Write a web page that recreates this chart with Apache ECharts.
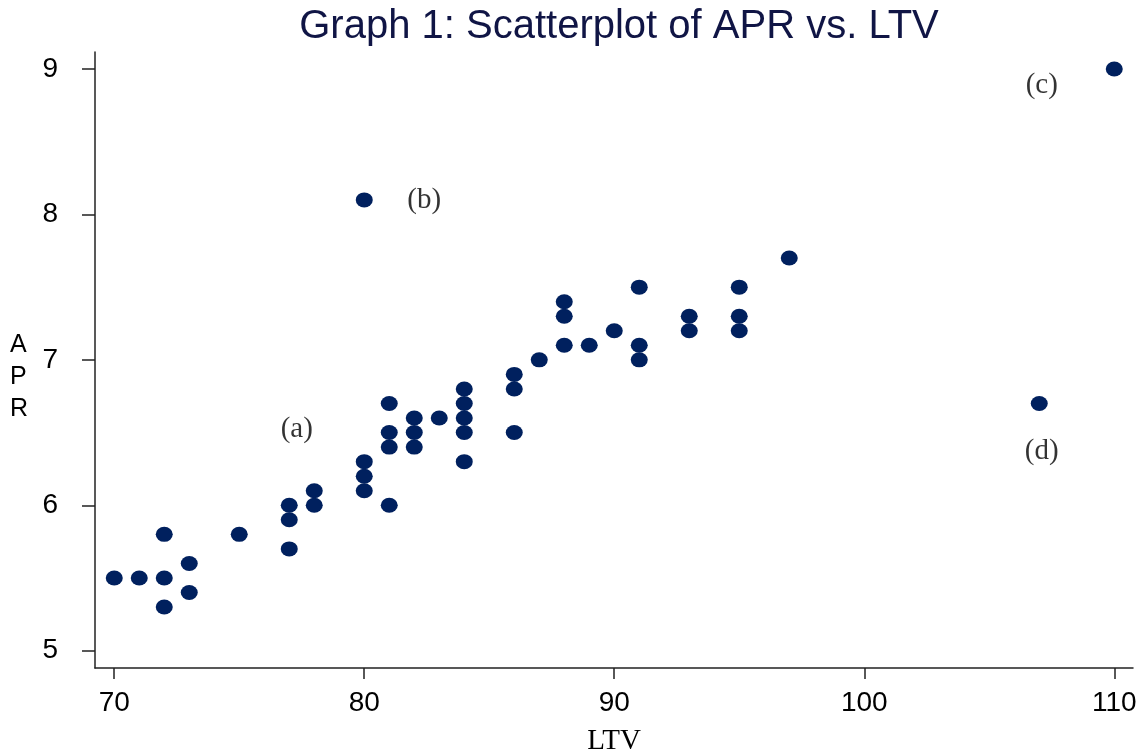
<!DOCTYPE html>
<html>
<head>
<meta charset="utf-8">
<script src="https://cdn.jsdelivr.net/npm/echarts@6/dist/echarts.min.js"></script>
<style>html,body{margin:0;padding:0;background:#fff;}#c{width:1136px;height:754px;}</style>
</head>
<body>
<div id="c"></div>
<script>
// Data
const ltv = [70,71,72,72,72,73,73,75,77,77,77,78,78,80,80,80,80,81,81,81,81,82,82,82,83,84,84,84,84,84,86,86,86,87,88,88,88,89,90,91,91,91,93,93,95,95,95,97,107,110];
const apr = [5.5,5.5,5.5,5.8,5.3,5.6,5.4,5.8,6.0,5.9,5.7,6.1,6.0,6.1,6.2,6.3,8.1,6.5,6.4,6.7,6.0,6.6,6.5,6.4,6.6,6.8,6.7,6.6,6.5,6.3,6.9,6.8,6.5,7.0,7.4,7.3,7.1,7.1,7.2,7.5,7.1,7.0,7.3,7.2,7.5,7.3,7.2,7.7,6.7,9.0];
const noteText = ['(a)','(b)','(c)','(d)'];
const noteX = [77.3, 82.4, 107.1, 107.1];
const noteY = [6.52, 8.1, 8.89, 6.37];
const xTicks = [70,80,90,100,110];
const yTicks = [5,6,7,8,9];

const points = ltv.map((v,i)=>[v, apr[i]]);
const notes = noteText.map((t,i)=>({value:[noteX[i], noteY[i]], name:t}));

const chart = echarts.init(document.getElementById('c'), null, {renderer:'canvas'});
const axisCol = '#222';
chart.setOption({
  animation:false,
  backgroundColor:'#fff',
  title:{
    text:'Graph 1: Scatterplot of APR vs. LTV',
    left:614, top:2, textAlign:'center',
    textStyle:{fontFamily:'Liberation Sans, Arial, sans-serif', fontSize:40, fontWeight:'normal', color:'#101545'}
  },
  grid:{left:95, right:3, top:52, bottom:86, containLabel:false, outerBoundsMode:'none'},
  xAxis:{
    type:'value', min:69.23, max:110.75,
    name:'LTV', nameLocation:'middle', nameGap:59,
    nameTextStyle:{fontFamily:'Liberation Serif, Times New Roman, serif', fontSize:29, color:'#000'},
    splitLine:{show:false},
    axisLine:{show:true, onZero:false, lineStyle:{color:axisCol, width:1.5}},
    axisTick:{show:true, customValues:xTicks, length:11, lineStyle:{color:axisCol, width:1.5}},
    axisLabel:{customValues:xTicks, fontFamily:'Liberation Sans, Arial, sans-serif', fontSize:28, color:'#000', margin:21}
  },
  yAxis:{
    type:'value', min:4.881, max:9.117,
    splitLine:{show:false},
    axisLine:{show:true, onZero:false, lineStyle:{color:axisCol, width:1.5}},
    axisTick:{show:true, customValues:yTicks, length:13, lineStyle:{color:axisCol, width:1.5}},
    axisLabel:{customValues:yTicks, fontFamily:'Liberation Sans, Arial, sans-serif', fontSize:28, color:'#000', margin:37}
  },
  graphic:[{
    type:'text', left:10, top:329,
    style:{text:'A\nP\nR', fontFamily:'Liberation Sans, Arial, sans-serif', fontSize:25, lineHeight:32, fill:'#000', align:'center'}
  }],
  series:[
    {type:'scatter', data:points, symbol:'circle', symbolSize:[17,15], itemStyle:{color:'#00205e', opacity:1}},
    {type:'scatter', data:notes, symbolSize:0, silent:true,
      label:{show:true, position:'inside', formatter:p=>p.name,
        fontFamily:'Liberation Serif, Times New Roman, serif', fontSize:29, color:'#000'}}
  ]
});
</script>
</body>
</html>
